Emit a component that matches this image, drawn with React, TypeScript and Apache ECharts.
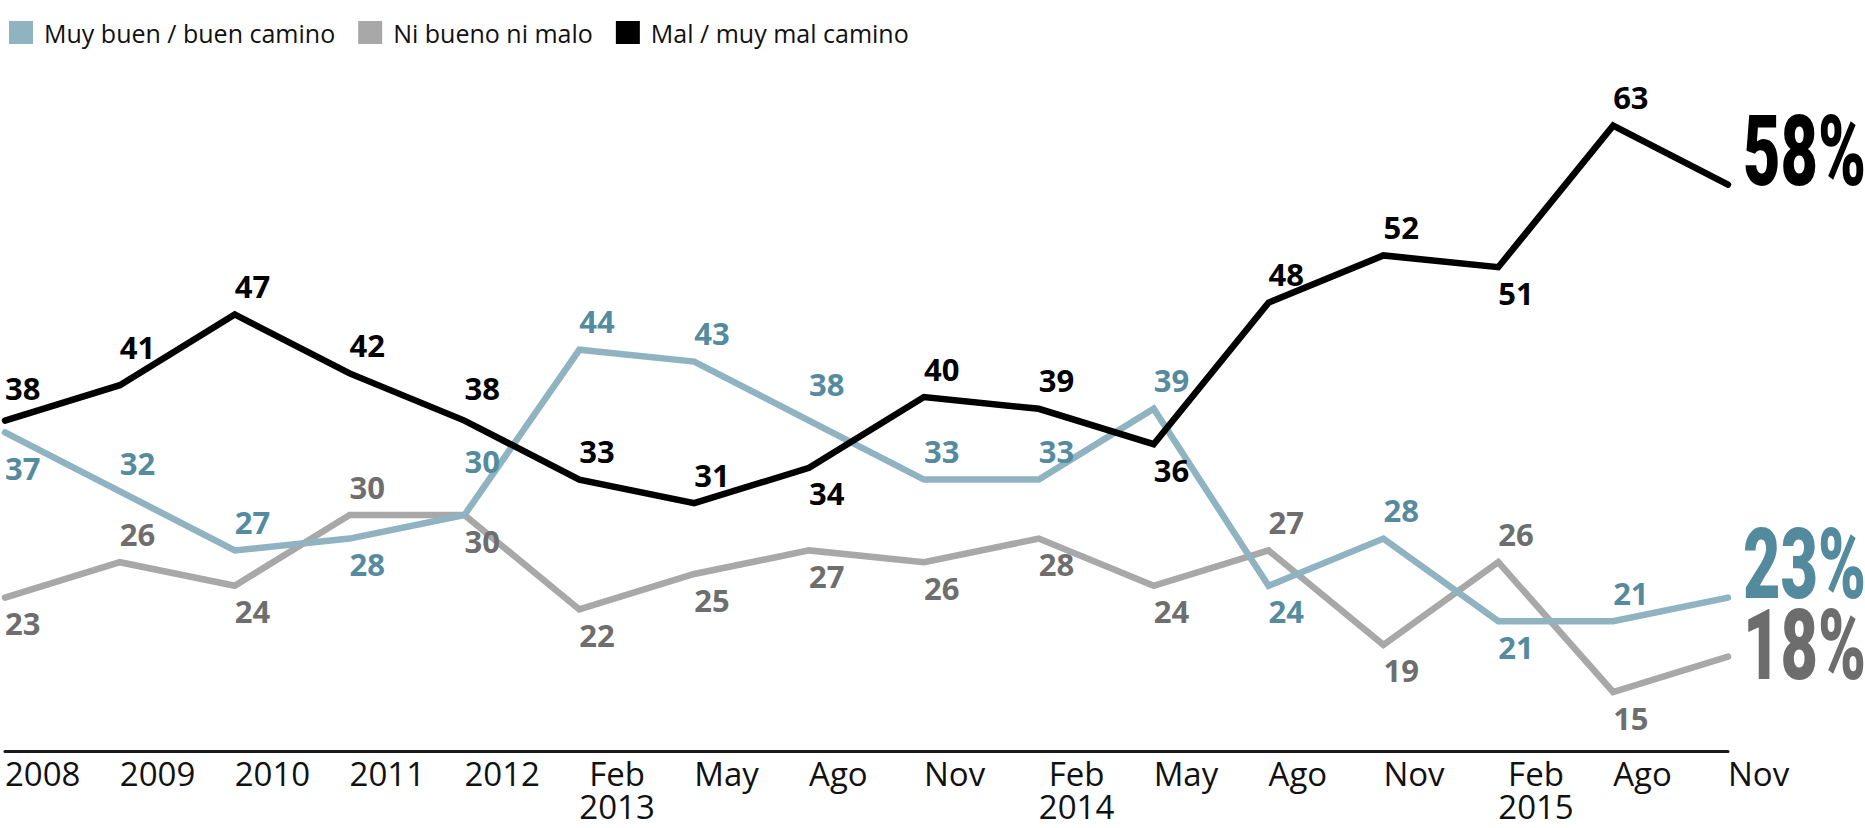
import React, { useEffect, useRef } from "react";
import * as echarts from "echarts";

// ---- data ----
const categories = [
  "2008", "2009", "2010", "2011", "2012", "Feb\n2013", "May", "Ago", "Nov",
  "Feb\n2014", "May", "Ago", "Nov", "Feb\n2015", "Ago", "Nov",
];
const seriesNames = ["Muy buen / buen camino", "Ni bueno ni malo", "Mal / muy mal camino"];
const buenValues = [37, 32, 27, 28, 30, 44, 43, 38, 33, 33, 39, 24, 28, 21, 21, 23];
const niValues = [23, 26, 24, 30, 30, 22, 25, 27, 26, 28, 24, 27, 19, 26, 15, 18];
const malValues = [38, 41, 47, 42, 38, 33, 31, 34, 40, 39, 36, 48, 52, 51, 63, 58];

// ---- label placement (style) : T = above, B = below ----
const buenSides = ["B", "T", "T", "B", "T", "T", "T", "T", "T", "T", "T", "B", "T", "B", "T", "T"];
const niSides = ["B", "T", "B", "T", "B", "B", "B", "B", "B", "B", "B", "T", "B", "T", "B", "B"];
const malSides = ["T", "T", "T", "T", "T", "T", "T", "B", "T", "T", "B", "T", "T", "B", "T", "T"];
// extra label distance per point (style)
const buenExtra = [10, 0, 0, 0, 26, 0, 0, 8, 0, 0, 0, 0, 0, 0, 0, 0];
const niExtra = [0, 0, 0, 0, 0, 0, 0, 0, 0, 0, 0, 0, 0, 0, 0, 0];
const malExtra = [4, 10, 0, 0, 4, 0, 0, 0, 0, 0, 0, 0, 0, 0, 0, 0];

const LABEL_FONT = "'Open Sans', 'Noto Sans', sans-serif";

function buildData(vals: number[], sides: string[], extra: number[]) {
  return vals.map((v, i) => ({
    value: v,
    label:
      i === vals.length - 1
        ? { show: false }
        : sides[i] === "T"
        ? { position: "top", distance: 12 + extra[i] }
        : { position: "bottom", distance: 9 + extra[i] },
  }));
}

function makeSeries(
  name: string, vals: number[], sides: string[], extra: number[],
  lineColor: string, labelColor: string, z: number
) {
  return {
    name,
    type: "line",
    z,
    data: buildData(vals, sides, extra),
    symbol: "circle",
    symbolSize: 2,
    itemStyle: { color: lineColor },
    lineStyle: { color: lineColor, width: 6.5, cap: "round", join: "miter" },
    label: {
      show: true,
      align: "left",
      fontSize: 31,
      fontWeight: "bold",
      fontFamily: LABEL_FONT,
      color: labelColor,
    },
    emphasis: { disabled: true },
    silent: true,
  };
}

export default function App() {
  const ref = useRef<HTMLDivElement>(null);

  useEffect(() => {
    if (!ref.current) return;
    const chart = echarts.init(ref.current, undefined, { renderer: "svg" });
    chart.setOption({
      animation: false,
      backgroundColor: "#ffffff",
      tooltip: { show: false },
      legend: {
        left: 4,
        top: 15,
        icon: "rect",
        itemWidth: 24,
        itemHeight: 23,
        itemGap: 23,
        selectedMode: false,
        data: seriesNames,
        textStyle: {
          fontFamily: LABEL_FONT,
          fontSize: 25,
          color: "#111111",
          padding: [0, 0, 0, 6],
        },
      },
      grid: { left: 5, top: 43, width: 1723, height: 708, containLabel: false, outerBoundsMode: "none" },
      xAxis: {
        type: "category",
        boundaryGap: false,
        data: categories,
        axisLine: { show: true, lineStyle: { color: "#1a1a1a", width: 3 } },
        axisTick: { show: false },
        splitLine: { show: false },
        axisLabel: {
          interval: 0,
          align: "left",
          margin: 6,
          fontFamily: LABEL_FONT,
          fontSize: 33,
          lineHeight: 33,
          color: "#111111",
          formatter: (v: string) =>
            v.indexOf("\n") >= 0 ? v.split("\n").map((s) => `{c|${s}}`).join("\n") : v,
          rich: {
            c: { align: "center", fontFamily: LABEL_FONT, fontSize: 33, lineHeight: 33, color: "#111111" },
          },
        },
      },
      yAxis: {
        type: "value",
        min: 10,
        max: 70,
        show: false,
        splitLine: { show: false },
      },
      series: [
        makeSeries(seriesNames[1], niValues, niSides, niExtra, "#a8a8a8", "#6e6e6e", 1),
        makeSeries(seriesNames[0], buenValues, buenSides, buenExtra, "#8fb3c1", "#558b9e", 2),
        makeSeries(seriesNames[2], malValues, malSides, malExtra, "#000000", "#000000", 3),
      ],
    });

    // end labels positioned through the chart's own scales
    const lastIdx = categories.length - 1;
    const ends = [
      { vals: buenValues, color: "#548a9e", dy: -33 },
      { vals: niValues, color: "#6d6d6d", dy: -11 },
      { vals: malValues, color: "#000000", dy: -33 },
    ];
    const graphic = ends.map((e) => {
      const p = chart.convertToPixel({ xAxisIndex: 0, yAxisIndex: 0 }, [lastIdx, e.vals[lastIdx]]) as number[];
      return {
        type: "text",
        x: p[0] + 15,
        y: p[1] + e.dy,
        scaleX: 0.66,
        silent: true,
        style: {
          text: `${e.vals[lastIdx]}%`,
          fontSize: 98,
          fontWeight: 900,
          fontFamily: "Roboto, 'Liberation Sans', sans-serif",
          fill: e.color,
          align: "left",
          verticalAlign: "middle",
        },
      };
    });
    chart.setOption({ graphic });

    return () => chart.dispose();
  }, []);

  return (
    <div
      ref={ref}
      style={{ position: "absolute", left: 0, top: 0, width: 1865, height: 828 }}
    />
  );
}
